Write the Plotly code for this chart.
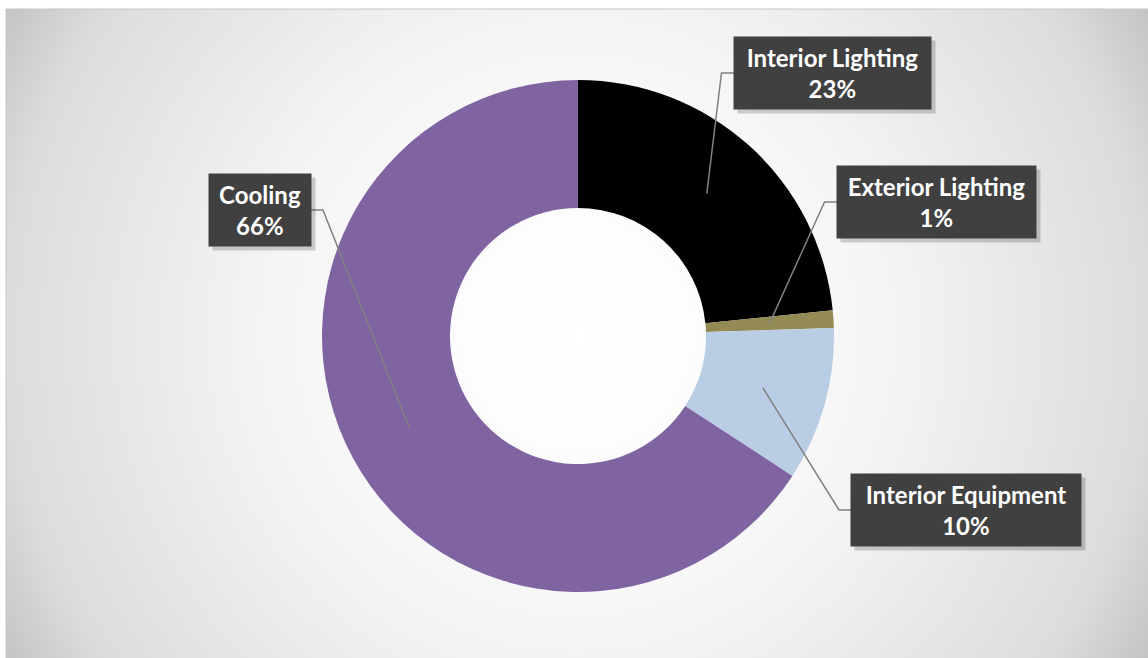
import base64
import math
import plotly.graph_objs as go

# data
labels = ["Interior Lighting", "Exterior Lighting", "Interior Equipment", "Cooling"]
values = [23.4, 1.1, 9.7, 65.8]
colors = ["#000000", "#948a54", "#b9cde5", "#8064a2"]

# label box centres (pixels) and sizes
box_centers = [(832, 73), (936, 202), (966, 510), (260, 210)]
box_sizes = [(195, 70), (197, 70), (228, 70), (100, 70)]

W, H = 1148, 658
cx, cy, r_out = 578, 336, 256
hole = 0.5


def px(x):
    return x / W


def py(y):
    return 1 - y / H


# radial gradient background, like the Excel chart area
svg = """<svg xmlns='http://www.w3.org/2000/svg' width='1142' height='650'>
<defs><radialGradient id='g' gradientUnits='userSpaceOnUse' cx='571' cy='325' r='657'>
<stop offset='0' stop-color='#ffffff'/>
<stop offset='0.3' stop-color='#fbfbfb'/>
<stop offset='0.5' stop-color='#f3f3f3'/>
<stop offset='0.87' stop-color='#dcdcdc'/>
<stop offset='1' stop-color='#c4c4c4'/>
</radialGradient></defs>
<rect width='1142' height='650' fill='url(#g)'/></svg>"""
bg_src = "data:image/svg+xml;base64," + base64.b64encode(svg.encode()).decode()

fig = go.Figure()
fig.add_trace(go.Pie(
    labels=labels,
    values=values,
    hole=hole,
    sort=False,
    direction="clockwise",
    rotation=0,
    marker=dict(colors=colors, line=dict(width=0)),
    textinfo="none",
    hoverinfo="label+percent",
    showlegend=False,
    domain=dict(x=[px(cx - r_out), px(cx + r_out)], y=[py(cy + r_out), py(cy - r_out)]),
))

total = sum(values)
annotations = []
shapes = [dict(type="rect", xref="paper", yref="paper", x0=px(6), y0=py(H + 5),
               x1=px(W + 5), y1=py(9), line=dict(color="#c6c6c6", width=1), layer="below")]

cum = 0
r_mid = r_out * (1 + hole) / 2
for lab, v, (bx, by), (bw, bh) in zip(labels, values, box_centers, box_sizes):
    mid = (cum + v / 2) / total * 2 * math.pi
    cum += v
    tx = cx + r_mid * math.sin(mid)
    ty = cy - r_mid * math.cos(mid)
    # leader line: slice point -> elbow -> box edge
    edge = bx - bw / 2 if bx > cx else bx + bw / 2
    elbow = edge - 13 if bx > cx else edge + 13
    shapes.append(dict(type="path", xref="paper", yref="paper",
                       path=f"M {px(tx)} {py(ty)} L {px(elbow)} {py(by)} L {px(edge)} {py(by)}",
                       line=dict(color="#808080", width=1.5)))
    # shadow
    annotations.append(dict(x=px(bx + 4), y=py(by + 4), xref="paper", yref="paper", text="",
                            showarrow=False, width=bw, height=bh, bgcolor="rgba(0,0,0,0.18)",
                            xanchor="center", yanchor="middle"))
    pct = round(v / total * 100)
    annotations.append(dict(x=px(bx), y=py(by), xref="paper", yref="paper",
                            text=f"{lab}<br>{pct}%", showarrow=False, width=bw, height=bh,
                            bgcolor="#404040", align="center", valign="middle",
                            xanchor="center", yanchor="middle",
                            font=dict(family="Lato, Calibri, sans-serif", size=24,
                                      color="#ffffff", weight="bold")))

fig.update_layout(
    width=W,
    height=H,
    margin=dict(l=0, r=0, t=0, b=0),
    paper_bgcolor="#ffffff",
    plot_bgcolor="#ffffff",
    images=[dict(source=bg_src, xref="paper", yref="paper", x=px(6), y=py(9),
                 sizex=px(1142), sizey=650 / H, sizing="stretch", layer="below",
                 xanchor="left", yanchor="top")],
    shapes=shapes,
    annotations=annotations,
)

fig.write_html("out.html", config={"displayModeBar": False},
               post_script="document.body.style.margin='0';")
